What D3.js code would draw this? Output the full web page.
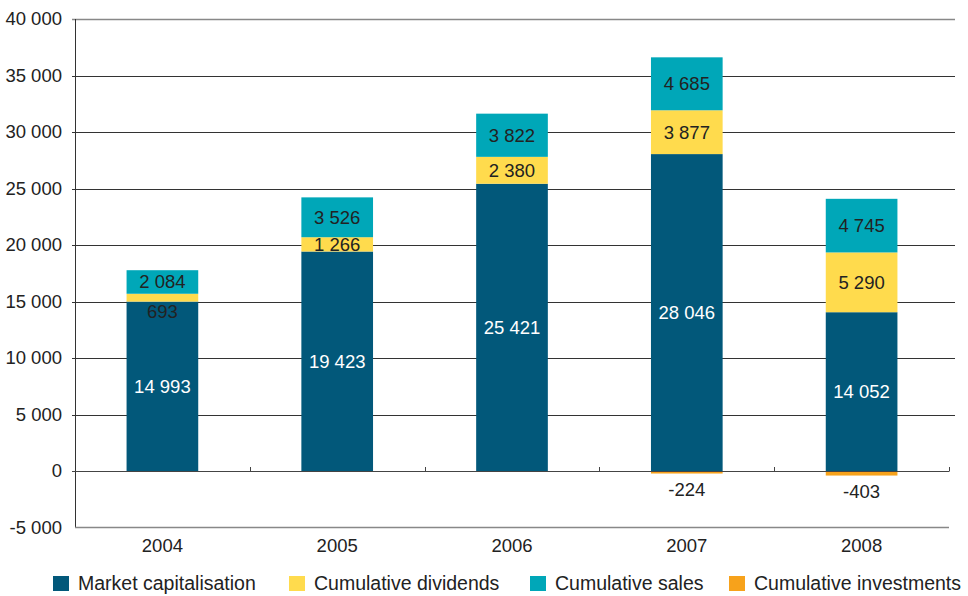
<!DOCTYPE html>
<html>
<head>
<meta charset="utf-8">
<script src="https://cdn.jsdelivr.net/npm/d3@7"></script>
<style>
  html, body { margin: 0; padding: 0; background: #fff; }
  svg { display: block; font-family: "Liberation Sans", Arial, sans-serif; }
</style>
</head>
<body>
<svg id="chart" width="968" height="596"></svg>
<script>
// Yearly value components (millions)
const years = ["2004", "2005", "2006", "2007", "2008"];
const marketCap = [14993, 19423, 25421, 28046, 14052];
const dividends = [693, 1266, 2380, 3877, 5290];
const sales = [2084, 3526, 3822, 4685, 4745];
const investments = [0, 0, 0, -224, -403];
const yTicks = [-5000, 0, 5000, 10000, 15000, 20000, 25000, 30000, 35000, 40000];

const seriesNames = ["Market capitalisation", "Cumulative dividends", "Cumulative sales", "Cumulative investments"];
const colors = ["#02587a", "#ffdb4d", "#00a7b8", "#f7a21b"];

const svg = d3.select("#chart");
const plotLeft = 75, plotRight = 949, plotTop = 19, plotBottom = 527.5;
const labelSize = 18.5;

const x = d3.scaleBand().domain(years).range([plotLeft, plotRight]).paddingInner(0.59).paddingOuter(0.295);
const y = d3.scaleLinear().domain([-5000, 40000]).range([plotBottom, plotTop]);

const fmt = v => {
  const s = d3.format(",")(Math.abs(v)).replace(/,/g, " ");
  return (v < 0 ? "-" : "") + s;
};

// Horizontal gridlines with short ticks on the left
const grid = svg.append("g");
yTicks.forEach(t => {
  if (t === -5000) return;
  grid.append("line")
    .attr("x1", plotLeft - 3).attr("x2", t === 0 ? plotRight : 955)
    .attr("y1", Math.round(y(t)) + 0.5).attr("y2", Math.round(y(t)) + 0.5)
    .attr("stroke", t === 40000 ? "#888" : "#333").attr("stroke-width", t === 40000 ? 1.5 : 1);
});

// Y tick labels
const yAxis = d3.axisLeft(y).tickValues(yTicks).tickSize(0).tickPadding(13).tickFormat(fmt);
const gy = svg.append("g").attr("transform", `translate(${plotLeft},0)`).call(yAxis);
gy.select(".domain").remove();
gy.selectAll("text").attr("font-size", labelSize).attr("fill", "#222").attr("font-family", "Liberation Sans, Arial, sans-serif");

// Stacked bars
const stackKeys = [marketCap, dividends, sales];
years.forEach((yr, i) => {
  let base = 0;
  stackKeys.forEach((arr, k) => {
    const v = arr[i];
    const y0 = y(base), y1 = y(base + v);
    svg.append("rect")
      .attr("x", x(yr)).attr("width", x.bandwidth())
      .attr("y", y1).attr("height", y0 - y1)
      .attr("fill", colors[k]);
    base += v;
  });
  if (investments[i] < 0) {
    svg.append("rect")
      .attr("x", x(yr)).attr("width", x.bandwidth())
      .attr("y", y(0)).attr("height", y(investments[i]) - y(0))
      .attr("fill", colors[3]);
  }
});

// Vertical axis line, zero line ticks and bottom baseline
svg.append("line").attr("x1", plotLeft + 0.5).attr("x2", plotLeft + 0.5).attr("y1", plotTop).attr("y2", plotBottom)
  .attr("stroke", "#333").attr("stroke-width", 1);
svg.append("line").attr("x1", plotLeft - 3).attr("x2", plotRight).attr("y1", Math.round(y(0)) + 0.5).attr("y2", Math.round(y(0)) + 0.5)
  .attr("stroke", "#444").attr("stroke-width", 1);
svg.append("line").attr("x1", plotLeft).attr("x2", plotRight).attr("y1", plotBottom).attr("y2", plotBottom)
  .attr("stroke", "#888").attr("stroke-width", 1.5);
years.forEach((yr, i) => {
  const bx = Math.round(x(yr) + x.bandwidth() / 2 + x.step() / 2) + 0.5;
  svg.append("line").attr("x1", bx).attr("x2", bx)
    .attr("y1", Math.round(y(0)) - 4).attr("y2", Math.round(y(0)) + 0.5)
    .attr("stroke", "#444");
});

// X labels
years.forEach(yr => {
  svg.append("text").attr("x", x(yr) + x.bandwidth() / 2).attr("y", 552)
    .attr("text-anchor", "middle").attr("font-size", labelSize).attr("fill", "#222").text(yr);
});

// Value labels
const lbl = (cx, cy, txt, fill) => svg.append("text")
  .attr("x", cx).attr("y", cy).attr("dy", "0.35em")
  .attr("text-anchor", "middle").attr("font-size", labelSize).attr("fill", fill).text(txt);

years.forEach((yr, i) => {
  const cx = x(yr) + x.bandwidth() / 2;
  let base = 0;
  stackKeys.forEach((arr, k) => {
    const v = arr[i];
    const y0 = y(base), y1 = y(base + v);
    const h = y0 - y1;
    if (h < 10) {
      lbl(cx, y0 + 10, fmt(v), "#222");
    } else {
      lbl(cx, (y0 + y1) / 2, fmt(v), k === 0 ? "#fff" : "#222");
    }
    base += v;
  });
  if (investments[i] < 0) {
    lbl(cx, y(investments[i]) + 16, fmt(investments[i]), "#222");
  }
});

// Legend
const legendX = [53, 289, 530, 729];
seriesNames.forEach((name, k) => {
  svg.append("rect").attr("x", legendX[k]).attr("y", 576).attr("width", 16).attr("height", 15).attr("fill", colors[k]);
  svg.append("text").attr("x", legendX[k] + 25).attr("y", 590)
    .attr("font-size", 19.5).attr("fill", "#222").text(name);
});
</script>
</body>
</html>
